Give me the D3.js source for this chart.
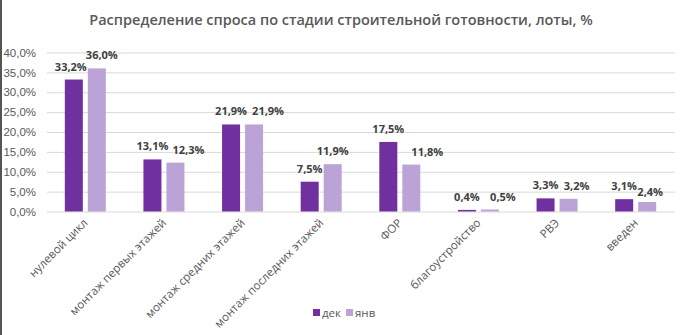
<!DOCTYPE html>
<html>
<head>
<meta charset="utf-8">
<script src="https://cdn.jsdelivr.net/npm/d3@7"></script>
<style>
  body { margin: 0; background: #fff; }
  svg { display: block; font-family: "Open Sans", "Noto Sans", sans-serif; }
</style>
</head>
<body>
<div id="chart"></div>
<script>
// stages of construction readiness, share of lots sold
var stages = ["нулевой цикл", "монтаж первых этажей", "монтаж средних этажей",
  "монтаж последних этажей", "ФОР", "благоустройство", "РВЭ", "введен"]
var seriesNames = ["дек", "янв"]
var dec = [33.2, 13.1, 21.9, 7.5, 17.5, 0.4, 3.3, 3.1]
var jan = [36.0, 12.3, 21.9, 11.9, 11.8, 0.5, 3.2, 2.4]
var yTicks = [0, 5, 10, 15, 20, 25, 30, 35, 40]
var colors = ["#7030a0", "#bba3d6"]

// hand-placed label nudges so neighbouring labels don't collide
var labelDx = [
  [-3, 0, 0, 0, 0, 0, 0, 0],
  [5, 13, 14, 0, 16, 13, 8, 3]
]
var labelDy = [
  [0, 0, 0, 0, 0, 0, 0, 0],
  [0, 0, 0, 0, 0, 0, 0, 3]
]

var width = 680, height = 335
var margin = { top: 52.5, left: 46, right: 5, bottom: 123.5 }

var svg = d3.select("#chart").append("svg")
  .attr("width", width)
  .attr("height", height)

// dark frame edge on the left
svg.append("rect")
  .attr("x", 0).attr("y", 0)
  .attr("width", 2).attr("height", height)
  .attr("fill", "#555")

svg.append("text")
  .attr("x", 341)
  .attr("y", 25)
  .attr("text-anchor", "middle")
  .attr("font-size", 14.5)
  .attr("font-weight", 600)
  .attr("fill", "#595959")
  .text("Распределение спроса по стадии строительной готовности, лоты, %")

var y = d3.scaleLinear()
  .domain([0, 40])
  .range([height - margin.bottom, margin.top])

var x0 = d3.scaleBand()
  .domain(stages)
  .range([margin.left, width - margin.right])

var x1 = d3.scaleBand()
  .domain(seriesNames)
  .range([x0.bandwidth() / 2 - 20.5, x0.bandwidth() / 2 + 20.5])
  .paddingInner(0.217)

var fmt = function(v) { return d3.format(".1f")(v).replace(".", ",") + "%" }

// gridlines + tick labels
var yAxis = d3.axisLeft(y)
  .tickValues(yTicks)
  .tickSize(-(width - margin.right - margin.left - 1))
  .tickFormat(fmt)

var gy = svg.append("g")
  .attr("transform", "translate(" + (margin.left + 1) + ",0)")
  .call(yAxis)
gy.select(".domain").remove()
gy.selectAll(".tick line").attr("stroke", "#d9d9d9").attr("stroke-width", 1)
gy.selectAll(".tick text")
  .attr("x", -11)
  .attr("font-size", 11.5)
  .attr("fill", "#595959")

var rows = stages.map(function(s, i) {
  return { stage: s, i: i, values: [dec[i], jan[i]] }
})

function items(d) {
  return d.values.map(function(v, j) { return { s: seriesNames[j], v: v, j: j, i: d.i } })
}

var groups = svg.selectAll(".stage")
  .data(rows)
  .enter().append("g")
  .attr("class", "stage")
  .attr("transform", function(d) { return "translate(" + x0(d.stage) + ",0)" })

groups.selectAll("rect")
  .data(items)
  .enter().append("rect")
  .attr("x", function(d) { return x1(d.s) })
  .attr("y", function(d) { return y(d.v) })
  .attr("width", x1.bandwidth())
  .attr("height", function(d) { return y(0) - y(d.v) })
  .attr("fill", function(d) { return colors[d.j] })

groups.selectAll(".lbl")
  .data(items)
  .enter().append("text")
  .attr("class", "lbl")
  .attr("x", function(d) { return x1(d.s) + x1.bandwidth() / 2 + labelDx[d.j][d.i] })
  .attr("y", function(d) { return y(d.v) - 9 + labelDy[d.j][d.i] })
  .attr("text-anchor", "middle")
  .attr("font-size", 11)
  .attr("font-weight", 700)
  .attr("fill", "#404040")
  .text(function(d) { return fmt(d.v) })

// rotated category labels
svg.append("g").selectAll("text")
  .data(stages)
  .enter().append("text")
  .attr("transform", function(d) {
    return "translate(" + (x0(d) + x0.bandwidth() / 2 + 3) + "," + (y(0) + 12) + ") rotate(-45)"
  })
  .attr("text-anchor", "end")
  .attr("font-size", 11.5)
  .attr("fill", "#595959")
  .text(function(d) { return d })

// legend
var legend = svg.append("g").attr("transform", "translate(313,313)")
var li = legend.selectAll("g")
  .data(seriesNames)
  .enter().append("g")
  .attr("transform", function(d, i) { return "translate(" + (i * 33) + ",0)" })
li.append("rect")
  .attr("x", 0).attr("y", -4)
  .attr("width", 7).attr("height", 7)
  .attr("fill", function(d, i) { return colors[i] })
li.append("text")
  .attr("x", 9).attr("y", 4)
  .attr("font-size", 11.5)
  .attr("fill", "#595959")
  .text(function(d) { return d })
</script>
</body>
</html>
